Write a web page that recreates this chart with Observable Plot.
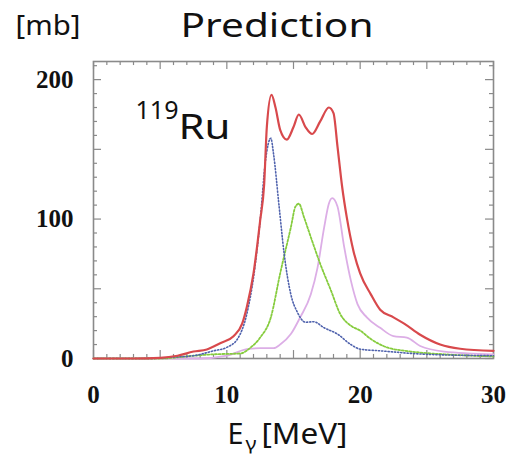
<!DOCTYPE html>
<html>
<head>
<meta charset="utf-8">
<script src="https://cdn.jsdelivr.net/npm/d3@7"></script>
<script src="https://cdn.jsdelivr.net/npm/@observablehq/plot@0.6"></script>
<style>
  html, body { margin: 0; padding: 0; background: #fff; }
</style>
</head>
<body>
<div id="chart"></div>
<script>
// Total (red, solid)
const totalE = [0, 3, 5, 6.3, 7.5, 8.5, 9.5, 10.5, 11.15, 11.5, 12, 12.5, 12.8, 13, 13.35, 13.65, 14, 14.5, 15, 15.4, 15.9, 16.4, 17, 17.65, 18, 18.3, 18.65, 19, 19.5, 20, 20.8, 21.5, 22.5, 23.3, 24.5, 26, 27.5, 30];
const totalS = [0, 0, 0.5, 2, 5, 6.5, 11, 16, 25, 37, 61, 99, 125, 166, 189, 180, 164, 157, 166, 175, 166, 161, 170, 180, 176, 152, 123, 101, 77, 61, 46, 35, 29.5, 25, 17, 10, 7, 5.5];
// Component 1 (blue, dotted)
const comp1E = [0, 4, 6, 7.5, 9, 10, 10.8, 11.5, 12, 12.5, 12.9, 13.3, 13.5, 13.9, 14.3, 14.8, 15.3, 15.9, 16.5, 17.3, 18.3, 19.3, 20, 21.5, 25, 30];
const comp1S = [0, 0, 1, 2, 5.5, 8, 14, 32, 58, 99, 142, 158, 147, 111, 75, 46, 33, 26, 26.4, 22, 17.5, 10, 6.7, 5.5, 3, 2];
// Component 2 (green, dashed)
const comp2E = [0, 5, 7.5, 9, 11, 11.8, 12.5, 13.3, 14, 14.8, 15.15, 15.4, 15.8, 16.3, 17, 17.8, 18.5, 19.3, 20, 20.8, 22, 23.8, 26.3, 30];
const comp2S = [0, 0, 2, 3, 3.6, 8, 15, 29.5, 61, 94, 109, 111, 101, 87, 68, 49, 32, 23.5, 20, 14, 8, 5, 3, 1.5];
// Component 3 (violet, solid)
const comp3E = [0, 8, 10, 11.5, 12.5, 13.5, 14, 14.8, 15.5, 16.3, 16.8, 17.3, 17.65, 17.9, 18.3, 18.8, 19.3, 19.8, 20.5, 21.5, 22.5, 23.5, 24.5, 26.3, 30];
const comp3S = [0, 0, 2, 6.7, 7.4, 7.4, 10, 17.5, 29.5, 46, 65, 94, 111, 115, 109, 80, 56, 39, 29.5, 22, 16, 15, 9, 5, 3];

const xMajorTicks = [0, 10, 20, 30];
const yMajorTicks = [0, 100, 200];
const xTickLabels = ["0", "10", "20", "30"];
const yTickLabels = ["0", "100", "200"];

const xMax = 30, yMax = 213;
const toRows = (E, S) => E.map((e, i) => ({e, s: S[i]}));

const xMinor = d3.range(0, 31, 1);
const yMinor = d3.range(0, 211, 10);
const xLen = v => (v % 5 === 0 ? 5.7 : 2.9);      // y-units
const yLen = v => (v % 50 === 0 ? 0.6 : 0.3);     // x-units

const tickColor = "#8a8a8a";
const serif = "'Liberation Serif', 'DejaVu Serif', serif";
const sans = "'Noto Sans', 'Open Sans', sans-serif";

const chart = Plot.plot({
  width: 513,
  height: 454,
  marginLeft: 93,
  marginRight: 20,
  marginTop: 61,
  marginBottom: 96,
  x: {domain: [0, xMax], axis: null},
  y: {domain: [0, yMax], axis: null},
  style: {background: "#fff", overflow: "visible"},
  marks: [
    // ticks (inward, four sides)
    Plot.ruleX(xMinor, {x: d => d, y1: 0, y2: d => xLen(d), stroke: tickColor, strokeWidth: 1.2}),
    Plot.ruleX(xMinor, {x: d => d, y1: yMax, y2: d => yMax - xLen(d), stroke: tickColor, strokeWidth: 1.2}),
    Plot.ruleY(yMinor, {y: d => d, x1: 0, x2: d => yLen(d), stroke: tickColor, strokeWidth: 1.2}),
    Plot.ruleY(yMinor, {y: d => d, x1: xMax, x2: d => xMax - yLen(d), stroke: tickColor, strokeWidth: 1.2}),
    Plot.frame({stroke: tickColor, strokeWidth: 1.6}),
    // curves
    Plot.line(toRows(comp3E, comp3S), {x: "e", y: "s", stroke: "#dcaee6", strokeWidth: 1.8, curve: "monotone-x"}),
    Plot.line(toRows(comp2E, comp2S), {x: "e", y: "s", stroke: "#86cc3e", strokeWidth: 1.8, strokeDasharray: "2,1.8", curve: "monotone-x"}),
    Plot.line(toRows(comp1E, comp1S), {x: "e", y: "s", stroke: "#4f62ad", strokeWidth: 1.6, strokeDasharray: "1.2,2", curve: "monotone-x"}),
    Plot.line(toRows(totalE, totalS), {x: "e", y: "s", stroke: "#d8494c", strokeWidth: 2.2, curve: "monotone-x"}),
    // tick labels
    Plot.text(yMajorTicks, {x: 0, y: d => d, text: (d, i) => yTickLabels[i], dx: -20, textAnchor: "end", lineAnchor: "middle", fontFamily: serif, fontWeight: "bold", fontSize: 25, fill: "#111"}),
    Plot.text(xMajorTicks, {x: d => d, frameAnchor: "bottom", text: (d, i) => xTickLabels[i], dy: 36, lineAnchor: "middle", fontFamily: serif, fontWeight: "bold", fontSize: 25, fill: "#111"}),
    // nucleus label
    Plot.text(["119"], {frameAnchor: "top-left", dx: 42, dy: 57, textAnchor: "start", lineAnchor: "bottom", fontFamily: sans, fontSize: 25, fill: "#111"}),
    Plot.text(["Ru"], {frameAnchor: "top-left", dx: 85, dy: 77, textAnchor: "start", lineAnchor: "bottom", fontFamily: sans, fontSize: 35, fill: "#111"}),
    // title and unit
    Plot.text(["Prediction"], {frameAnchor: "top-left", dx: 183.5, dy: -25, textAnchor: "middle", lineAnchor: "bottom", fontFamily: sans, fontSize: 33, fill: "#111"}),
    Plot.text(["[mb]"], {frameAnchor: "top-left", dx: -45.5, dy: -27, textAnchor: "middle", lineAnchor: "bottom", fontFamily: sans, fontSize: 27, fill: "#111"}),
    // x-axis label E_γ [MeV]
    Plot.text(["E"], {frameAnchor: "bottom-left", dx: 134, dy: 85, textAnchor: "start", lineAnchor: "bottom", fontFamily: sans, fontSize: 29, fill: "#111"}),
    Plot.text(["γ"], {frameAnchor: "bottom-left", dx: 152, dy: 91, textAnchor: "start", lineAnchor: "bottom", fontFamily: sans, fontSize: 19, fill: "#111"}),
    Plot.text(["[MeV]"], {frameAnchor: "bottom-left", dx: 168, dy: 85, textAnchor: "start", lineAnchor: "bottom", fontFamily: sans, fontSize: 29, fill: "#111"})
  ]
});
document.getElementById("chart").appendChild(chart);

// the reference's lettering is a little wider than Noto Sans: scale glyphs horizontally about their anchor
const textWidths = {"Prediction": 193, "[mb]": 65, "Ru": 52, "119": 43, "[MeV]": 86, "E": 16, "γ": 11};
d3.select(chart).selectAll("text").each(function () {
  const w = textWidths[this.textContent];
  if (!w) return;
  const natural = this.getComputedTextLength();
  if (!natural) return;
  const s = w / natural;
  const ax = +this.getAttribute("x") || 0;
  const prev = this.getAttribute("transform") || "";
  this.setAttribute("transform", `${prev} translate(${ax},0) scale(${s},1) translate(${-ax},0)`.trim());
});
</script>
</body>
</html>
